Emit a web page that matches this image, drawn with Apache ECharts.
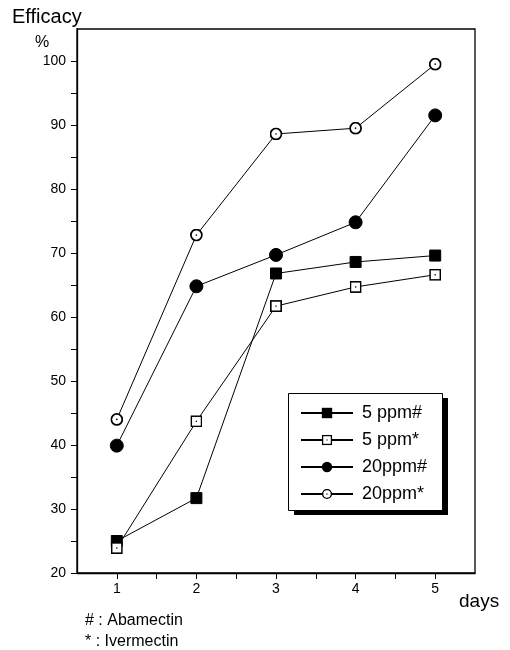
<!DOCTYPE html>
<html>
<head>
<meta charset="utf-8">
<script src="https://cdn.jsdelivr.net/npm/echarts@6/dist/echarts.min.js"></script>
<style>
html,body{margin:0;padding:0;background:#fff;}
#chart{width:510px;height:650px;}
</style>
</head>
<body>
<div id="chart"></div>
<script>
var days = [1, 2, 3, 4, 5];
var seriesNames = ['5 ppm#', '5 ppm*', '20ppm#', '20ppm*'];
var abamectin5 = [25.0, 31.7, 66.8, 68.6, 69.6];
var ivermectin5 = [23.9, 43.7, 61.7, 64.7, 66.6];
var abamectin20 = [39.9, 64.8, 69.7, 74.8, 91.5];
var ivermectin20 = [44.0, 72.8, 88.6, 89.5, 99.5];

var FONT = "'Liberation Sans', Arial, sans-serif";

function svgUri(svg) {
  return 'image://data:image/svg+xml;charset=utf-8,' + encodeURIComponent(svg);
}
var openSquare = svgUri("<svg xmlns='http://www.w3.org/2000/svg' width='22' height='22' viewBox='0 0 22 22'><rect x='1.5' y='1.5' width='19' height='19' fill='white' stroke='black' stroke-width='3'/><rect x='9.8' y='9.8' width='2.4' height='2.4' fill='black'/></svg>");
var openCircle = svgUri("<svg xmlns='http://www.w3.org/2000/svg' width='22' height='22' viewBox='0 0 22 22'><circle cx='11' cy='11' r='9.3' fill='white' stroke='black' stroke-width='3'/><circle cx='11' cy='11' r='1.4' fill='black'/></svg>");

function pairs(vals) {
  return days.map(function (d, i) { return [d, vals[i]]; });
}

function mk(name, vals, symbol, size) {
  return {
    name: name,
    type: 'line',
    data: pairs(vals),
    symbol: symbol,
    symbolSize: size,
    showAllSymbol: true,
    lineStyle: { color: '#000', width: 1 },
    itemStyle: { color: '#000', borderColor: '#000' },
    emphasis: { disabled: true },
    z: 3
  };
}

var chart = echarts.init(document.getElementById('chart'), null, { renderer: 'canvas' });
chart.setOption({
  animation: false,
  backgroundColor: '#fff',
  textStyle: { fontFamily: FONT, color: '#000' },
  grid: {
    left: 77, right: 35, top: 29, bottom: 77,
    show: true, borderColor: '#000', borderWidth: 1.3, containLabel: false
  },
  xAxis: {
    type: 'value',
    min: 0.5, max: 5.5, interval: 0.5,
    axisLine: { show: true, onZero: false, lineStyle: { color: '#000', width: 1.3 } },
    axisTick: { show: true, inside: false, length: 6, lineStyle: { color: '#000', width: 1 } },
    axisLabel: {
      margin: 9, fontSize: 14, color: '#000', fontFamily: FONT,
      showMinLabel: false, showMaxLabel: false,
      formatter: function (v) { return Math.abs(v - Math.round(v)) < 1e-6 ? String(Math.round(v)) : ''; }
    },
    splitLine: { show: false }
  },
  yAxis: {
    type: 'value',
    min: 20, max: 105, interval: 5,
    axisLine: { show: true, onZero: false, lineStyle: { color: '#000', width: 1.3 } },
    axisTick: { show: true, inside: false, length: 6, lineStyle: { color: '#000', width: 1 } },
    axisLabel: {
      margin: 11, fontSize: 14, color: '#000', fontFamily: FONT,
      showMaxLabel: false,
      formatter: function (v) { return v % 10 === 0 ? String(v) : ''; }
    },
    splitLine: { show: false }
  },
  legend: {
    data: seriesNames,
    orient: 'vertical',
    left: 288, top: 393,
    padding: [11, 12, 10, 12],
    itemWidth: 52, itemHeight: 13, itemGap: 9,
    selectedMode: false,
    z: 10,
    textStyle: { fontSize: 18, lineHeight: 17, color: '#000', fontFamily: FONT, padding: [0, 0, 0, 4] }
  },
  graphic: [
    { type: 'rect', z: 5, left: 294, top: 398, shape: { width: 154, height: 117 }, style: { fill: '#000' } },
    { type: 'rect', z: 6, left: 288, top: 393, shape: { width: 154, height: 117 }, style: { fill: '#fff', stroke: '#000', lineWidth: 1 } },
    { type: 'text', left: 12, top: 7, style: { text: 'Efficacy', font: '20px ' + FONT, fill: '#000' } },
    { type: 'text', left: 35, top: 35, style: { text: '%', font: '16px ' + FONT, fill: '#000' } },
    { type: 'text', left: 459, top: 592, style: { text: 'days', font: '19px ' + FONT, fill: '#000' } },
    { type: 'text', left: 85, top: 613, style: { text: '# : Abamectin', font: '16px ' + FONT, fill: '#000' } },
    { type: 'text', left: 85, top: 634, style: { text: '* : Ivermectin', font: '16px ' + FONT, fill: '#000' } }
  ],
  series: [
    mk(seriesNames[0], abamectin5, 'rect', 11),
    mk(seriesNames[1], ivermectin5, openSquare, 12),
    mk(seriesNames[2], abamectin20, 'circle', 13),
    mk(seriesNames[3], ivermectin20, openCircle, 13)
  ]
});
</script>
</body>
</html>
